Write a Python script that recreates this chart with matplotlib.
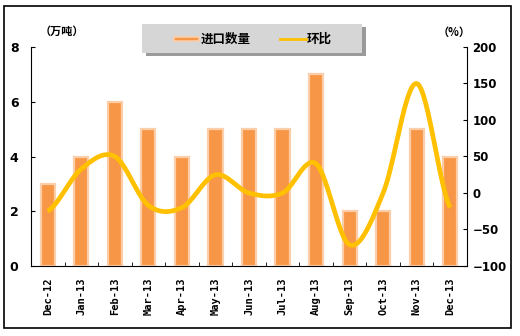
import numpy as np
import matplotlib.pyplot as plt
from matplotlib.patches import Rectangle
from matplotlib.lines import Line2D

plt.rcParams['font.family'] = ['Noto Sans CJK SC', 'DejaVu Sans']

months = ['Dec-12', 'Jan-13', 'Feb-13', 'Mar-13', 'Apr-13', 'May-13', 'Jun-13',
          'Jul-13', 'Aug-13', 'Sep-13', 'Oct-13', 'Nov-13', 'Dec-13']
imports = [3, 4, 6, 5, 4, 5, 5, 5, 7, 2, 2, 5, 4]
mom = [-25, 33, 50, -17, -20, 25, 0, 0, 40, -71, 0, 150, -20]

BAR = '#F79646'
EDGE = '#FBCDA8'
GOLD = '#FFC000'


def smooth(y, n=30):
    # Excel-style smoothed line (Catmull-Rom between points)
    y = np.asarray(y, float)
    p = np.concatenate([[y[0]], y, [y[-1]]])
    xs, ys = [], []
    t = np.linspace(0, 1, n, endpoint=False)
    for i in range(len(y) - 1):
        p0, p1, p2, p3 = p[i], p[i + 1], p[i + 2], p[i + 3]
        c1 = p1 + (p2 - p0) / 6
        c2 = p2 - (p3 - p1) / 6
        b = (1 - t) ** 3 * p1 + 3 * (1 - t) ** 2 * t * c1 + 3 * (1 - t) * t ** 2 * c2 + t ** 3 * p2
        xs.append(i + t)
        ys.append(b)
    xs.append([len(y) - 1])
    ys.append([y[-1]])
    return np.concatenate(xs), np.concatenate(ys)


fig = plt.figure(figsize=(5.2, 3.36), dpi=100)
fig.patch.set_facecolor('white')
fig.patches.append(Rectangle((4 / 520, 1 - 328 / 336), 507 / 520, 322 / 336,
                             transform=fig.transFigure, fill=False,
                             edgecolor='black', linewidth=1.2))

ax = fig.add_axes([31 / 520, 1 - 266 / 336, 436 / 520, 219 / 336])
x = np.arange(len(months))
ax.bar(x, imports, width=0.42, color=BAR, edgecolor=EDGE, linewidth=1.6, zorder=2)
ax.set_xlim(-0.5, len(months) - 0.5)
ax.set_ylim(0, 8)
ax.set_yticks([0, 2, 4, 6, 8])
ax.set_xticks(x)
ax.set_xticklabels(months, rotation=90, fontsize=7.5, fontweight='bold',
                   family=['DejaVu Sans Mono'])
ax.set_xticks(np.arange(0.5, len(months) - 1, 1), minor=True)
ax.tick_params(axis='x', which='major', length=0, pad=8)
ax.tick_params(axis='x', which='minor', direction='in', length=3)
ax.tick_params(axis='y', direction='in', length=3, labelsize=9, pad=9)
for lab in ax.get_yticklabels():
    lab.set_fontweight('bold')
    lab.set_family(['DejaVu Sans'])
for s in ['top', 'right']:
    ax.spines[s].set_visible(False)

ax2 = ax.twinx()
lx, ly = smooth(mom)
ax2.plot(lx, ly, color=GOLD, linewidth=3.4, solid_capstyle='butt', zorder=3)
ax2.set_ylim(-100, 200)
ax2.set_yticks([-100, -50, 0, 50, 100, 150, 200])
ax2.tick_params(axis='y', direction='in', length=3, labelsize=8.5, pad=4)
for lab in ax2.get_yticklabels():
    lab.set_fontweight('bold')
    lab.set_family(['DejaVu Sans'])
for s in ['top', 'left', 'bottom']:
    ax2.spines[s].set_visible(False)

fig.text(40 / 520, 1 - 31 / 336, '（万吨）', fontsize=8, fontweight='bold', va='center')
fig.text(438 / 520, 1 - 32 / 336, '（%）', fontsize=8, fontweight='bold', va='center')

# legend box with shadow
fig.patches.append(Rectangle((146 / 520, 1 - 56 / 336), 220 / 520, 29 / 336,
                             transform=fig.transFigure, facecolor='#9a9a9a',
                             edgecolor='none'))
fig.patches.append(Rectangle((142 / 520, 1 - 53 / 336), 220 / 520, 29 / 336,
                             transform=fig.transFigure, facecolor='#d6d6d6',
                             edgecolor='none'))
fig.patches.append(Rectangle((174 / 520, 1 - 40.5 / 336), 25 / 520, 4 / 336,
                             transform=fig.transFigure, facecolor=BAR,
                             edgecolor=EDGE, linewidth=1.2))
fig.text(201 / 520, 1 - 39 / 336, '进口数量', fontsize=9, fontweight='bold', va='center')
fig.lines.append(Line2D([280 / 520, 306 / 520], [1 - 39 / 336, 1 - 39 / 336],
                        transform=fig.transFigure, color=GOLD, linewidth=2))
fig.text(307 / 520, 1 - 39 / 336, '环比', fontsize=9, fontweight='bold', va='center')

fig.savefig('out.png', dpi=100)
